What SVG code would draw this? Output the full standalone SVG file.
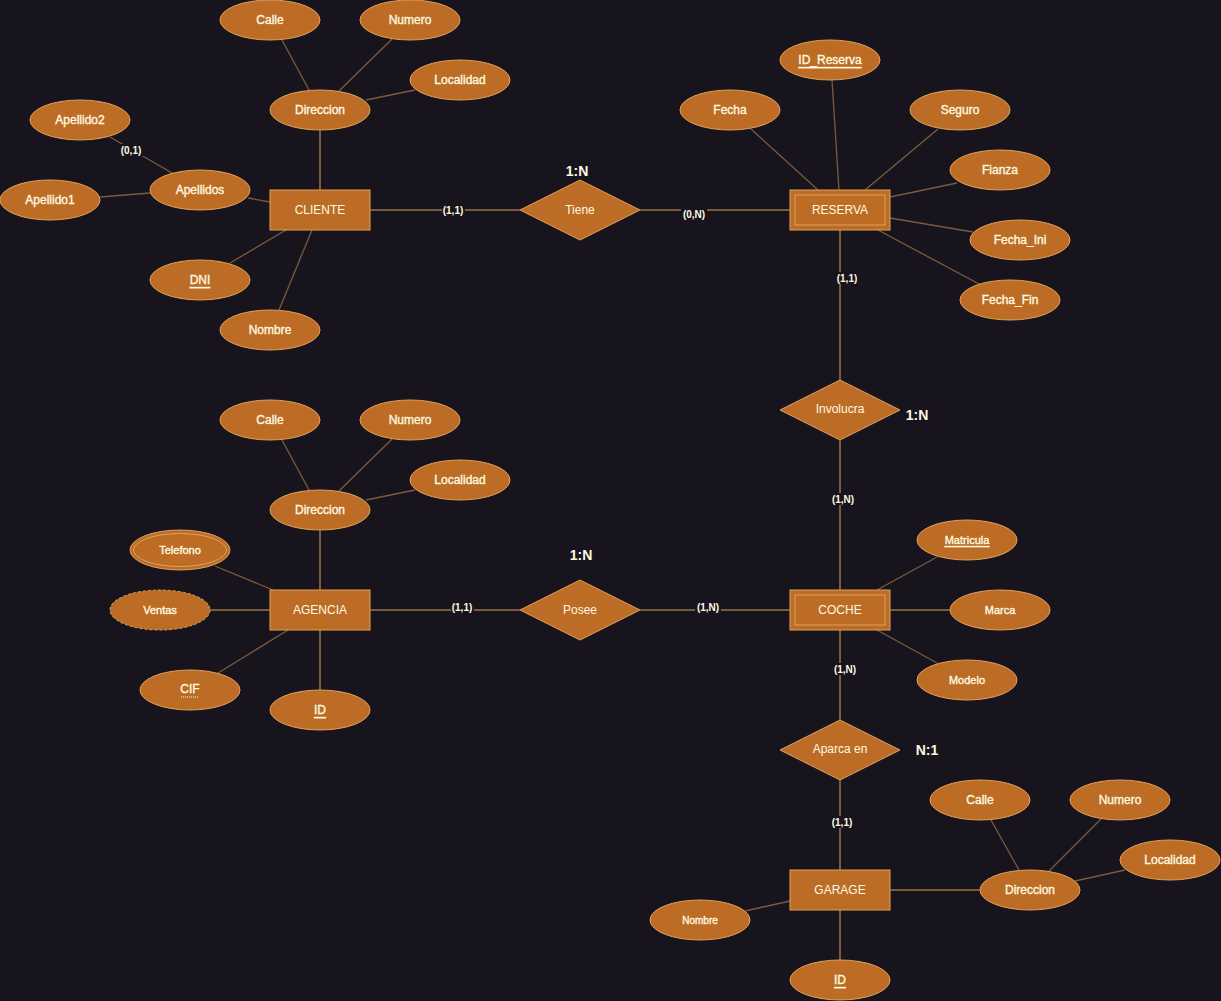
<svg xmlns="http://www.w3.org/2000/svg" width="1221" height="1001" viewBox="0 0 1221 1001">
  <style>
    .ent { fill: #bc6c25; stroke: #dda15e; stroke-width: 1; }
    .inner { fill: none; stroke: #dda15e; stroke-width: 1; }
    .attr { fill: #bc6c25; stroke: #dda15e; stroke-width: 1; }
    .rel { fill: #bc6c25; stroke: #dda15e; stroke-width: 1; }
    .link { stroke: #dda15e; stroke-width: 1; fill: none; }
    .alink { stroke: #dda15e; stroke-opacity: 0.5; stroke-width: 1.3; fill: none; }
    text { font-family: "Liberation Sans", Arial, sans-serif; fill: #fefae0; text-anchor: middle; dominant-baseline: central; }
    .t { font-size: 12px; }
    .a { font-size: 12px; stroke: #fefae0; stroke-width: 0.35; }
    .s { font-size: 11px; stroke: #fefae0; stroke-width: 0.35; }
    .xs { font-size: 10px; stroke: #fefae0; stroke-width: 0.35; }
    .u { text-decoration: underline; }
    .card { font-size: 10px; font-weight: bold; }
    .ratio { font-size: 14px; font-weight: bold; }
    .lblbg { fill: #18141d; }
  </style>
  <rect width="1221" height="1001" fill="#18141d"/>

  <!-- connectors -->
  <g id="connectors">
    <!-- CLIENTE -->
    <line class="alink" x1="282" y1="40" x2="309" y2="90"/>
    <line class="alink" x1="392" y1="39" x2="339" y2="91"/>
    <line class="alink" x1="415" y1="90" x2="366" y2="100"/>
    <line class="link" x1="320" y1="130" x2="320" y2="190"/>
    <line class="alink" x1="248" y1="198" x2="270" y2="202"/>
    <line class="alink" x1="100" y1="197" x2="150" y2="193"/>
    <line class="alink" x1="110" y1="137" x2="172" y2="173"/>
    <line class="alink" x1="230" y1="263" x2="286" y2="230"/>
    <line class="alink" x1="279" y1="310" x2="312" y2="230"/>
    <!-- Tiene -->
    <line class="link" x1="370" y1="210" x2="520" y2="210"/>
    <line class="link" x1="640" y1="210" x2="790" y2="210"/>
    <!-- RESERVA -->
    <line class="alink" x1="751" y1="129" x2="818" y2="190"/>
    <line class="alink" x1="832" y1="80" x2="839" y2="190"/>
    <line class="alink" x1="938" y1="129" x2="865" y2="190"/>
    <line class="alink" x1="957" y1="183" x2="890" y2="197"/>
    <line class="alink" x1="973" y1="232" x2="890" y2="218"/>
    <line class="alink" x1="979" y1="284" x2="878" y2="230"/>
    <!-- Involucra -->
    <line class="link" x1="840" y1="230" x2="840" y2="380"/>
    <line class="link" x1="840" y1="440" x2="840" y2="590"/>
    <!-- COCHE -->
    <line class="alink" x1="937" y1="557" x2="877" y2="590"/>
    <line class="link" x1="950" y1="610" x2="890" y2="610"/>
    <line class="alink" x1="937" y1="663" x2="877" y2="630"/>
    <!-- Aparca en -->
    <line class="link" x1="840" y1="630" x2="840" y2="720"/>
    <line class="link" x1="840" y1="780" x2="840" y2="870"/>
    <!-- GARAGE -->
    <line class="link" x1="890" y1="890" x2="980" y2="890"/>
    <line class="alink" x1="745" y1="911" x2="790" y2="901"/>
    <line class="link" x1="840" y1="910" x2="840" y2="960"/>
    <line class="alink" x1="991" y1="820" x2="1019" y2="870"/>
    <line class="alink" x1="1101" y1="819" x2="1049" y2="871"/>
    <line class="alink" x1="1125" y1="870" x2="1075" y2="881"/>
    <!-- AGENCIA -->
    <line class="alink" x1="282" y1="440" x2="309" y2="490"/>
    <line class="alink" x1="392" y1="439" x2="339" y2="491"/>
    <line class="alink" x1="415" y1="490" x2="366" y2="500"/>
    <line class="link" x1="320" y1="530" x2="320" y2="590"/>
    <line class="alink" x1="215" y1="566" x2="273" y2="590"/>
    <line class="link" x1="210" y1="610" x2="270" y2="610"/>
    <line class="alink" x1="218" y1="673" x2="288" y2="630"/>
    <line class="link" x1="320" y1="630" x2="320" y2="690"/>
    <!-- Posee -->
    <line class="link" x1="370" y1="610" x2="520" y2="610"/>
    <line class="link" x1="640" y1="610" x2="790" y2="610"/>

    <!-- cardinalities -->
    <rect class="lblbg" x="119" y="144" width="26" height="12"/>
    <text class="card" x="131" y="150">(0,1)</text>
    <rect class="lblbg" x="442" y="204" width="23" height="12"/>
    <text class="card" x="453" y="210">(1,1)</text>
    <rect class="lblbg" x="681" y="208" width="26" height="12"/>
    <text class="card" x="694" y="214">(0,N)</text>
    <rect class="lblbg" x="834" y="272" width="26" height="12"/>
    <text class="card" x="847" y="278">(1,1)</text>
    <rect class="lblbg" x="830" y="493" width="26" height="12"/>
    <text class="card" x="843" y="499">(1,N)</text>
    <rect class="lblbg" x="832" y="663" width="26" height="12"/>
    <text class="card" x="845" y="669">(1,N)</text>
    <rect class="lblbg" x="830" y="816" width="24" height="12"/>
    <text class="card" x="842" y="822">(1,1)</text>
    <rect class="lblbg" x="451" y="601" width="23" height="12"/>
    <text class="card" x="462" y="607">(1,1)</text>
    <rect class="lblbg" x="695" y="601" width="26" height="12"/>
    <text class="card" x="708" y="607">(1,N)</text>
  </g>

  <!-- CLIENTE -->
  <g id="cliente">
    <rect class="ent" x="270" y="190" width="100" height="40"/>
    <text class="t" x="320" y="210">CLIENTE</text>
  </g>
  <g id="cliente-direccion"><ellipse class="attr" cx="320" cy="110" rx="50" ry="20"/><text class="a" x="320" y="110">Direccion</text></g>
  <g id="cliente-calle"><ellipse class="attr" cx="270" cy="20" rx="50" ry="20"/><text class="a" x="270" y="20">Calle</text></g>
  <g id="cliente-numero"><ellipse class="attr" cx="410" cy="20" rx="50" ry="20"/><text class="a" x="410" y="20">Numero</text></g>
  <g id="cliente-localidad"><ellipse class="attr" cx="460" cy="80" rx="50" ry="20"/><text class="a" x="460" y="80">Localidad</text></g>
  <g id="cliente-apellidos"><ellipse class="attr" cx="200" cy="190" rx="50" ry="20"/><text class="a" x="200" y="190">Apellidos</text></g>
  <g id="cliente-apellido2"><ellipse class="attr" cx="80" cy="120" rx="50" ry="20"/><text class="a" x="80" y="120">Apellido2</text></g>
  <g id="cliente-apellido1"><ellipse class="attr" cx="50" cy="200" rx="50" ry="20"/><text class="a" x="50" y="200">Apellido1</text></g>
  <g id="cliente-dni"><ellipse class="attr" cx="200" cy="280" rx="50" ry="20"/><text class="a u" x="200" y="280">DNI</text></g>
  <g id="cliente-nombre"><ellipse class="attr" cx="270" cy="330" rx="50" ry="20"/><text class="a" x="270" y="330">Nombre</text></g>

  <!-- Tiene -->
  <g id="tiene">
    <polygon class="rel" points="580,180 640,210 580,240 520,210"/>
    <text class="t" x="580" y="210">Tiene</text>
    <text class="ratio" x="577" y="171">1:N</text>
  </g>

  <!-- RESERVA -->
  <g id="reserva">
    <rect class="ent" x="790" y="190" width="100" height="40"/>
    <rect class="inner" x="795" y="195" width="90" height="30"/>
    <text class="t" x="840" y="210">RESERVA</text>
  </g>
  <g id="reserva-id"><ellipse class="attr" cx="830" cy="60" rx="50" ry="20"/><text class="a u" x="830" y="60">ID_Reserva</text></g>
  <g id="reserva-fecha"><ellipse class="attr" cx="730" cy="110" rx="50" ry="20"/><text class="a" x="730" y="110">Fecha</text></g>
  <g id="reserva-seguro"><ellipse class="attr" cx="960" cy="110" rx="50" ry="20"/><text class="a" x="960" y="110">Seguro</text></g>
  <g id="reserva-fianza"><ellipse class="attr" cx="1000" cy="170" rx="50" ry="20"/><text class="a" x="1000" y="170">Fianza</text></g>
  <g id="reserva-fecha-ini"><ellipse class="attr" cx="1020" cy="240" rx="50" ry="20"/><text class="a" x="1020" y="240">Fecha_Ini</text></g>
  <g id="reserva-fecha-fin"><ellipse class="attr" cx="1010" cy="300" rx="50" ry="20"/><text class="a" x="1010" y="300">Fecha_Fin</text></g>

  <!-- Involucra -->
  <g id="involucra">
    <polygon class="rel" points="840,380 900,410 840,440 780,410"/>
    <text class="t" x="840" y="409">Involucra</text>
    <text class="ratio" x="917" y="415">1:N</text>
  </g>

  <!-- COCHE -->
  <g id="coche">
    <rect class="ent" x="790" y="590" width="100" height="40"/>
    <rect class="inner" x="795" y="595" width="90" height="30"/>
    <text class="t" x="840" y="610">COCHE</text>
  </g>
  <g id="coche-matricula"><ellipse class="attr" cx="967" cy="540" rx="50" ry="20"/><text class="s u" x="967" y="540">Matricula</text></g>
  <g id="coche-marca"><ellipse class="attr" cx="1000" cy="610" rx="50" ry="20"/><text class="s" x="1000" y="610">Marca</text></g>
  <g id="coche-modelo"><ellipse class="attr" cx="967" cy="680" rx="50" ry="20"/><text class="s" x="967" y="680">Modelo</text></g>

  <!-- Aparca en -->
  <g id="aparca-en">
    <polygon class="rel" points="840,720 900,750 840,780 780,750"/>
    <text class="t" x="840" y="749">Aparca en</text>
    <text class="ratio" x="927" y="750">N:1</text>
  </g>

  <!-- GARAGE -->
  <g id="garage">
    <rect class="ent" x="790" y="870" width="100" height="40"/>
    <text class="t" x="840" y="890">GARAGE</text>
  </g>
  <g id="garage-nombre"><ellipse class="attr" cx="700" cy="920" rx="50" ry="20"/><text class="xs" x="700" y="920">Nombre</text></g>
  <g id="garage-id"><ellipse class="attr" cx="840" cy="980" rx="50" ry="20"/><text class="a u" x="840" y="980">ID</text></g>
  <g id="garage-direccion"><ellipse class="attr" cx="1030" cy="890" rx="50" ry="20"/><text class="a" x="1030" y="890">Direccion</text></g>
  <g id="garage-calle"><ellipse class="attr" cx="980" cy="800" rx="50" ry="20"/><text class="a" x="980" y="800">Calle</text></g>
  <g id="garage-numero"><ellipse class="attr" cx="1120" cy="800" rx="50" ry="20"/><text class="a" x="1120" y="800">Numero</text></g>
  <g id="garage-localidad"><ellipse class="attr" cx="1170" cy="860" rx="50" ry="20"/><text class="a" x="1170" y="860">Localidad</text></g>

  <!-- AGENCIA -->
  <g id="agencia">
    <rect class="ent" x="270" y="590" width="100" height="40"/>
    <text class="t" x="320" y="610">AGENCIA</text>
  </g>
  <g id="agencia-direccion"><ellipse class="attr" cx="320" cy="510" rx="50" ry="20"/><text class="a" x="320" y="510">Direccion</text></g>
  <g id="agencia-calle"><ellipse class="attr" cx="270" cy="420" rx="50" ry="20"/><text class="a" x="270" y="420">Calle</text></g>
  <g id="agencia-numero"><ellipse class="attr" cx="410" cy="420" rx="50" ry="20"/><text class="a" x="410" y="420">Numero</text></g>
  <g id="agencia-localidad"><ellipse class="attr" cx="460" cy="480" rx="50" ry="20"/><text class="a" x="460" y="480">Localidad</text></g>
  <g id="agencia-telefono">
    <ellipse class="attr" cx="180" cy="550" rx="50" ry="20"/>
    <ellipse class="inner" cx="180" cy="550" rx="46.5" ry="16.5"/>
    <text class="s" x="180" y="550">Telefono</text>
  </g>
  <g id="agencia-ventas">
    <ellipse class="attr" cx="160" cy="610" rx="50" ry="20" stroke-dasharray="3 2"/>
    <text class="s" x="160" y="610">Ventas</text>
  </g>
  <g id="agencia-cif">
    <ellipse class="attr" cx="190" cy="690" rx="50" ry="20"/>
    <text class="a" x="190" y="689">CIF</text>
    <line x1="181" y1="697" x2="199" y2="697" stroke="#fefae0" stroke-width="1" stroke-dasharray="1 1"/>
  </g>
  <g id="agencia-id"><ellipse class="attr" cx="320" cy="710" rx="50" ry="20"/><text class="a u" x="320" y="710">ID</text></g>

  <!-- Posee -->
  <g id="posee">
    <polygon class="rel" points="580,580 640,610 580,640 520,610"/>
    <text class="t" x="580" y="610">Posee</text>
    <text class="ratio" x="581" y="555">1:N</text>
  </g>
</svg>
